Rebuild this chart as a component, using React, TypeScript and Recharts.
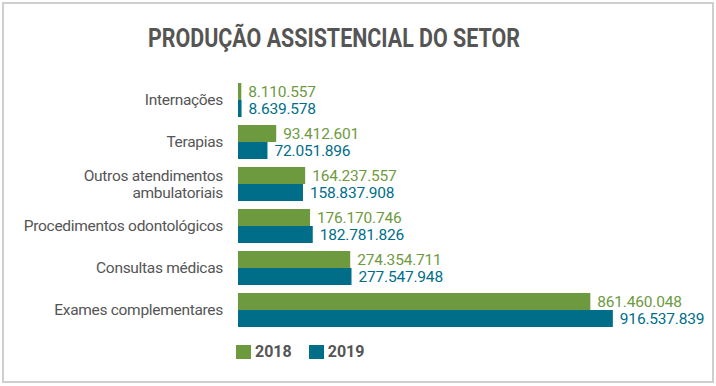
import React from 'react';
import { BarChart, Bar, XAxis, YAxis, LabelList, Legend } from 'recharts';

const categories = [
  'Internações',
  'Terapias',
  'Outros atendimentos\nambulatoriais',
  'Procedimentos odontológicos',
  'Consultas médicas',
  'Exames complementares',
];
const values2018 = [8110557, 93412601, 164237557, 176170746, 274354711, 861460048];
const values2019 = [8639578, 72051896, 158837908, 182781826, 277547948, 916537839];
const seriesNames = ['2018', '2019'];
const title = 'PRODUÇÃO ASSISTENCIAL DO SETOR';

const GREEN = '#6e9a3f';
const BLUE = '#006e89';
const TEXT = '#555555';
const FONT = 'Roboto, "Liberation Sans", sans-serif';

const data = categories.map((c, i) => ({ name: c, y2018: values2018[i], y2019: values2019[i] }));

const fmt = (v: any) => String(v).replace(/\B(?=(\d{3})+(?!\d))/g, '.');

const CatTick = (props: any) => {
  const { x, y, payload } = props;
  const lines = String(payload.value).split('\n');
  const lh = 17;
  const start = -((lines.length - 1) * lh) / 2;
  return (
    <text x={x} y={y} textAnchor="end" fill={TEXT} fontFamily={FONT} fontSize={15.5} letterSpacing={-0.3}>
      {lines.map((l: string, i: number) => (
        <tspan key={i} x={x} y={y + start + i * lh} dy="0.35em">{l}</tspan>
      ))}
    </text>
  );
};

const LegendContent = () => (
  <div style={{ display: 'flex', alignItems: 'center', fontFamily: FONT, fontWeight: 'bold', fontSize: 16, color: TEXT }}>
    <span style={{ display: 'inline-block', width: 15, height: 14, background: GREEN, marginRight: 4 }} />
    <span style={{ marginRight: 17 }}>{seriesNames[0]}</span>
    <span style={{ display: 'inline-block', width: 15, height: 14, background: BLUE, marginRight: 4 }} />
    <span>{seriesNames[1]}</span>
  </div>
);

export default function App() {
  return (
    <div style={{ position: 'absolute', left: 0, top: 0, width: 716, height: 386, background: '#fff' }}>
      <div style={{ position: 'absolute', left: 2, top: 2, width: 708, height: 377, border: '2px solid #cfcfcf' }} />
      <svg style={{ position: 'absolute', left: 0, top: 0 }} width={716} height={60}>
        <text x={148} y={47} textLength={372} lengthAdjust="spacingAndGlyphs" fontFamily={FONT} fontWeight="bold" fontSize={25} fill={TEXT}>
          {title}
        </text>
      </svg>
      <div style={{ position: 'absolute', left: 0, top: 0 }}>
        <BarChart
          width={716}
          height={386}
          data={data}
          layout="vertical"
          margin={{ top: 79, right: 69, bottom: 55, left: 0 }}
          barCategoryGap={4}
          barGap={0}
        >
          <XAxis type="number" hide domain={[0, 1000000000]} />
          <YAxis
            type="category"
            dataKey="name"
            width={238}
            axisLine={false}
            tickLine={false}
            tick={<CatTick />}
            tickMargin={9}
            interval={0}
          />
          <Legend
            layout="horizontal"
            verticalAlign="middle"
            align="center"
            wrapperStyle={{ left: 236, top: 342, width: 200, height: 20 }}
            content={<LegendContent />}
          />
          <Bar dataKey="y2018" name="2018" fill={GREEN} isAnimationActive={false}>
            <LabelList dataKey="y2018" position="right" offset={7} formatter={fmt} fill={GREEN} fontFamily={FONT} fontSize={15.5} letterSpacing={-0.2} />
          </Bar>
          <Bar dataKey="y2019" name="2019" fill={BLUE} isAnimationActive={false}>
            <LabelList dataKey="y2019" position="right" offset={7} formatter={fmt} fill={BLUE} fontFamily={FONT} fontSize={15.5} letterSpacing={-0.2} />
          </Bar>
        </BarChart>
      </div>
    </div>
  );
}
